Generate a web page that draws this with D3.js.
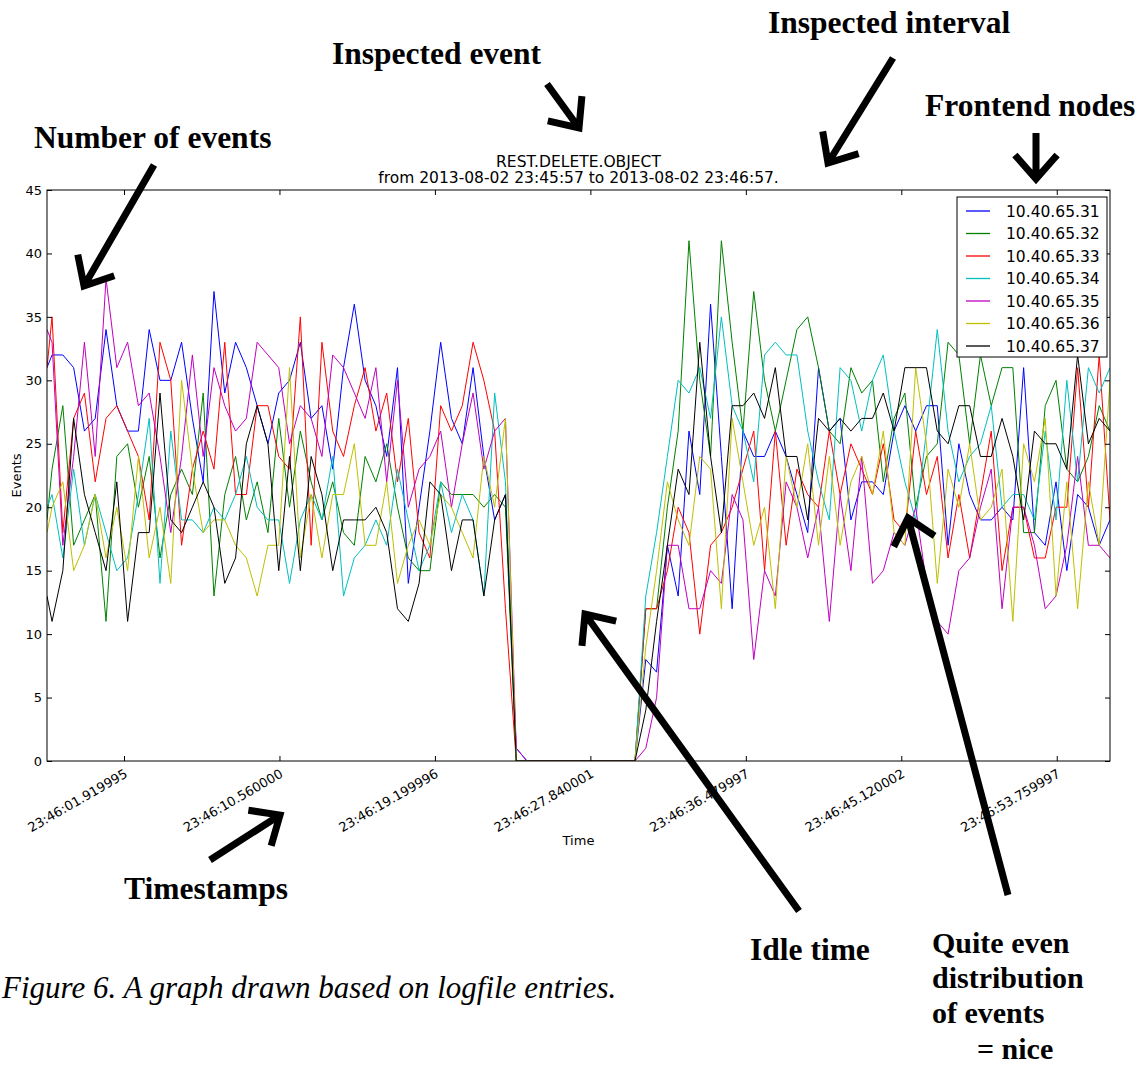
<!DOCTYPE html>
<html>
<head>
<meta charset="utf-8">
<script src="https://cdn.jsdelivr.net/npm/d3@7"></script>
<style>
  body { margin: 0; background: #fff; }
  .tick text { font-family: "DejaVu Sans", sans-serif; }
</style>
</head>
<body>
<div id="chart"></div>
<script>
// ------------------------------------------------------------ //
// Data                                     //
// ------------------------------------------------------------ //
var nodes = ["10.40.65.31", "10.40.65.32", "10.40.65.33", "10.40.65.34",
             "10.40.65.35", "10.40.65.36", "10.40.65.37"];

var ev31 = [31,32,32,31,26,27,34,28,26,26, 34,30,30,33,27,22,37,29,33,31,
            28,25,29,30,33,27,28,23,31,36, 30,28,24,31,14,20,26,33,27,25,
            31,24,19,21,1,0,0,0,0,0, 0,0,0,0,0,0,8,7,17,13,
            26,21,36,24,12,26,24,24,26,24, 21,18,31,26,27,19,22,22,21,26,
            28,26,28,28,17,25,21,19,19,20, 19,31,18,17,22,15,21,20,17,19];
var ev32 = [19,23,28,17,19,21,11,24,25,20, 24,16,21,23,21,29,13,21,24,19,
            22,18,27,20,26,22,19,22,18,17, 24,22,25,20,16,15,15,22,21,21,
            21,20,21,20,0,0,0,0,0,0, 0,0,0,0,0,0,12,12,20,26,
            41,30,24,41,33,26,37,30,26,30, 34,35,31,26,25,31,29,30,22,27,
            29,20,24,25,33,32,25,32,28,31, 31,18,18,28,30,23,22,24,28,26];
var ev33 = [31,35,18,27,29,22,27,28,26,24, 19,33,30,17,23,26,23,33,21,21,
            28,28,24,23,35,17,33,26,24,28, 31,26,29,22,27,18,16,28,26,28,
            33,30,26,12,0,0,0,0,0,0, 0,0,0,0,0,0,12,12,15,20,
            18,10,17,18,20,23,26,15,26,17, 23,21,20,26,21,25,23,21,25,19,
            18,26,21,24,16,21,16,21,26,15, 20,20,16,16,20,20,31,20,32,19];
var ev34 = [20,21,16,23,17,21,18,15,16,21, 27,14,26,19,19,18,20,19,21,24,
            20,19,19,14,19,21,19,24,13,16, 17,19,17,23,19,15,17,22,18,21,
            19,13,29,22,0,0,0,0,0,0, 0,0,0,0,0,0,13,18,24,30,
            29,31,27,35,28,26,22,32,33,32, 32,26,22,19,31,30,26,30,32,26,
            22,19,26,34,26,22,24,25,28,20, 21,21,19,26,19,30,22,31,29,31];
var ev35 = [34,33,17,24,33,24,38,31,33,28, 29,24,18,24,32,24,31,28,26,27,
            33,32,31,25,28,27,24,32,31,29, 27,31,22,30,20,23,24,26,20,25,
            29,23,26,27,1,0,0,0,0,0, 0,0,0,0,0,0,1,5,17,17,
            12,12,15,14,21,19,8,15,13,22, 20,16,20,11,21,15,24,14,15,18,
            17,20,14,11,10,15,16,20,23,12, 20,20,17,12,13,17,24,17,17,16];
var ev36 = [18,20,22,15,17,21,16,20,15,24, 16,20,14,30,23,18,19,19,17,16,
            13,17,17,31,16,21,16,21,21,25, 17,17,22,14,17,19,17,21,20,18,
            16,24,20,27,0,0,0,0,0,0, 0,0,0,0,0,0,9,15,22,19,
            17,24,23,12,27,22,17,20,12,24, 20,25,17,24,17,22,24,21,26,18,
            17,31,25,14,23,20,25,19,20,23, 11,25,22,27,13,22,12,22,17,30];
var ev37 = [13,11,15,27,21,18,15,22,11,18, 18,29,19,18,20,22,20,14,16,25,
            28,25,15,24,15,24,21,15,19,19, 19,20,18,12,11,14,22,21,15,19,
            19,13,19,21,0,0,0,0,0,0, 0,0,0,0,0,0,4,11,17,23,
            21,33,24,18,28,28,29,27,31,24, 24,19,27,26,27,26,27,27,29,26,
            31,31,31,26,25,28,28,24,24,27, 24,19,26,25,25,23,32,25,27,26];
var seriesValues = [ev31, ev32, ev33, ev34, ev35, ev36, ev37];

// bucket timestamps: first entry, then one bucket every 0.6 s
var firstStamp = "23:45:57.640000",
    bucketStart = "23:45:57.920000",
    bucketSeconds = 0.6;

var tickLabels = ["23:46:01.919995", "23:46:10.560000", "23:46:19.199996",
                  "23:46:27.840001", "23:46:36.479997", "23:46:45.120002",
                  "23:46:53.759997"];
var yTicks = [0, 5, 10, 15, 20, 25, 30, 35, 40, 45];

var titleLines = ["REST.DELETE.OBJECT",
                  "from 2013-08-02 23:45:57 to 2013-08-02 23:46:57."];

// colours (matplotlib classic b g r c m y k)
var colors = ["#0000ff", "#008000", "#ff0000", "#00bfbf", "#bf00bf", "#bfbf00", "#000000"];

// ------------------------------------------------------------ //
// Annotation layer (the hand drawn notes round the plot)       //
// ------------------------------------------------------------ //
var notes = [
  {text: "Inspected interval", x: 768, y: 33, size: 31.5},
  {text: "Inspected event", x: 332, y: 64, size: 31.5},
  {text: "Frontend nodes", x: 925, y: 116, size: 31.5},
  {text: "Number of events", x: 34, y: 148, size: 31.5},
  {text: "Timestamps", x: 124, y: 899, size: 31.5},
  {text: "Idle time", x: 750, y: 960, size: 31.5},
  {text: "Quite even", x: 932, y: 953, size: 30},
  {text: "distribution", x: 932, y: 988, size: 30},
  {text: "of events", x: 932, y: 1023, size: 30},
  {text: "= nice", x: 977, y: 1059, size: 30}
];
var arrows = [
  {x1: 547, y1: 84, x2: 579, y2: 128},
  {x1: 893, y1: 58, x2: 828, y2: 163},
  {x1: 1036, y1: 133, x2: 1036, y2: 179},
  {x1: 154, y1: 165, x2: 84, y2: 286},
  {x1: 210, y1: 860, x2: 280, y2: 815},
  {x1: 799, y1: 911, x2: 585, y2: 614},
  {x1: 1008, y1: 895, x2: 908, y2: 518}
];

// ------------------------------------------------------------ //
// Canvas                                                        //
// ------------------------------------------------------------ //
var W = 1145, H = 1067;
var plot = {left: 47, top: 190, right: 1110, bottom: 761};

var svg = d3.select("#chart").append("svg")
    .attr("width", W).attr("height", H)
    .style("display", "block");

function parseClock(s) {
  var p = s.split(":");
  return Date.UTC(2013, 7, 2, +p[0], +p[1], 0) + Math.round(+p[2] * 1000);
}

var times = seriesValues[0].map(function(d, i) {
  if (i === 0) return new Date(parseClock(firstStamp));
  return new Date(parseClock(bucketStart) + (i - 1) * bucketSeconds * 1000);
});
var tickTimes = tickLabels.map(function(s) { return new Date(parseClock(s)); });

var x = d3.scaleUtc()
    .domain([times[0], times[times.length - 1]])
    .range([plot.left, plot.right]);
var y = d3.scaleLinear()
    .domain([0, 45])
    .range([plot.bottom, plot.top]);

// clip to the axes box
svg.append("defs").append("clipPath").attr("id", "clip")
  .append("rect")
    .attr("x", plot.left).attr("y", plot.top)
    .attr("width", plot.right - plot.left)
    .attr("height", plot.bottom - plot.top);

// ----- //
// Lines //
// ----- //
var line = d3.line()
    .x(function(d, i) { return x(times[i]); })
    .y(function(d) { return y(d); });

svg.append("g")
    .attr("clip-path", "url(#clip)")
  .selectAll("path")
  .data(seriesValues)
  .enter()
  .append("path")
    .attr("fill", "none")
    .attr("stroke", function(d, i) { return colors[i]; })
    .attr("stroke-width", 1)
    .attr("d", line);

// ---- //
// Axes //
// ---- //
var tickFont = "13px";

svg.append("g")
    .attr("transform", "translate(" + plot.left + ",0)")
    .call(d3.axisLeft(y).tickValues(yTicks).tickSizeInner(-5).tickSizeOuter(0).tickPadding(5));
svg.append("g")
    .attr("transform", "translate(" + plot.right + ",0)")
    .call(d3.axisRight(y).tickValues(yTicks).tickSizeInner(-5).tickSizeOuter(0).tickFormat(""));

var xAxis = svg.append("g")
    .attr("transform", "translate(0," + plot.bottom + ")")
    .call(d3.axisBottom(x).tickValues(tickTimes).tickSizeInner(-5).tickSizeOuter(0)
          .tickFormat(function(d, i) { return tickLabels[i]; }));
svg.append("g")
    .attr("transform", "translate(0," + plot.top + ")")
    .call(d3.axisTop(x).tickValues(tickTimes).tickSizeInner(-5).tickSizeOuter(0).tickFormat(""));

svg.selectAll(".domain").remove();
svg.selectAll(".tick line").attr("stroke", "#000");
svg.selectAll(".tick text").attr("fill", "#000").style("font-size", tickFont);

// rotate the time labels like autofmt_xdate
xAxis.selectAll(".tick text")
    .attr("text-anchor", "end")
    .attr("y", 0)
    .attr("dy", "0.75em")
    .attr("transform", "translate(-1,7) rotate(-30)");

// frame
svg.append("rect")
    .attr("x", plot.left).attr("y", plot.top)
    .attr("width", plot.right - plot.left)
    .attr("height", plot.bottom - plot.top)
    .attr("fill", "none").attr("stroke", "#000").attr("stroke-width", 1);

// axis labels
svg.append("text")
    .attr("x", (plot.left + plot.right) / 2).attr("y", 845)
    .attr("text-anchor", "middle")
    .style("font-family", "DejaVu Sans").style("font-size", tickFont)
    .text("Time");
svg.append("text")
    .attr("transform", "translate(21," + ((plot.top + plot.bottom) / 2) + ") rotate(-90)")
    .attr("text-anchor", "middle")
    .style("font-family", "DejaVu Sans").style("font-size", tickFont)
    .text("Events");

// title
svg.selectAll(".title")
  .data(titleLines)
  .enter()
  .append("text")
    .attr("class", "title")
    .attr("x", (plot.left + plot.right) / 2)
    .attr("y", function(d, i) { return 166.5 + i * 16.5; })
    .attr("text-anchor", "middle")
    .style("font-family", "DejaVu Sans").style("font-size", "15.5px")
    .text(function(d) { return d; });

// ------ //
// Legend //
// ------ //
var legend = svg.append("g");
legend.append("rect")
    .attr("x", 957).attr("y", 197).attr("width", 150).attr("height", 160)
    .attr("fill", "#fff").attr("stroke", "#000").attr("stroke-width", 1);
var rows = legend.selectAll(".row")
  .data(nodes)
  .enter()
  .append("g")
    .attr("transform", function(d, i) { return "translate(0," + (211 + i * 22.5) + ")"; });
rows.append("line")
    .attr("x1", 966).attr("x2", 990)
    .attr("stroke-width", 1.3)
    .attr("stroke", function(d, i) { return colors[nodes.indexOf(d)]; });
rows.append("text")
    .attr("x", 1006).attr("dy", "0.36em")
    .style("font-family", "DejaVu Sans").style("font-size", "15.5px")
    .text(function(d) { return d; });

// ----------- //
// Annotations //
// ----------- //
svg.selectAll(".note")
  .data(notes)
  .enter()
  .append("text")
    .attr("class", "note")
    .attr("x", function(d) { return d.x; })
    .attr("y", function(d) { return d.y; })
    .style("font-family", "Liberation Serif, Times New Roman, serif")
    .style("font-weight", "bold")
    .style("font-size", function(d) { return d.size + "px"; })
    .text(function(d) { return d.text; });

svg.append("text")
    .attr("x", 2).attr("y", 998)
    .style("font-family", "Liberation Serif, Times New Roman, serif")
    .style("font-style", "italic").style("font-size", "31px")
    .text("Figure 6. A graph drawn based on logfile entries.");

function arrowPath(a) {
  var ang = Math.atan2(a.y1 - a.y2, a.x1 - a.x2), L = 32, spread = 0.72;
  var p1 = [a.x2 + L * Math.cos(ang - spread), a.y2 + L * Math.sin(ang - spread)];
  var p2 = [a.x2 + L * Math.cos(ang + spread), a.y2 + L * Math.sin(ang + spread)];
  return "M" + p1 + "L" + a.x2 + "," + a.y2 + "L" + p2 +
         "M" + a.x2 + "," + a.y2 + "L" + a.x1 + "," + a.y1;
}
svg.selectAll(".arrow")
  .data(arrows)
  .enter()
  .append("path")
    .attr("class", "arrow")
    .attr("d", arrowPath)
    .attr("fill", "none").attr("stroke", "#000")
    .attr("stroke-width", 7).attr("stroke-linejoin", "miter");
</script>
</body>
</html>
